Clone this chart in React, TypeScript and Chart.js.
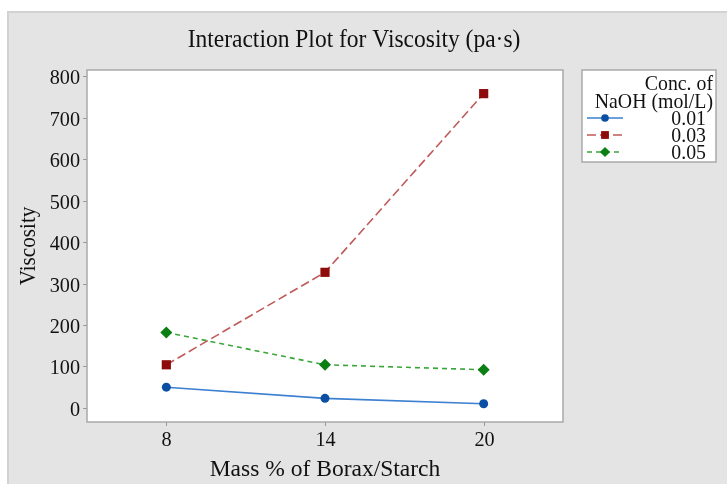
import React, { useEffect, useRef } from "react";
import { Chart, registerables } from "chart.js";

Chart.register(...registerables);

const xValues = [8, 14, 20];
const seriesLabels = ["0.01", "0.03", "0.05"];
const visc001 = [50, 23, 10];
const visc003 = [104, 327, 758];
const visc005 = [182, 104, 92];
const yTickValues = [0, 100, 200, 300, 400, 500, 600, 700, 800];
const xTickValues = [8, 14, 20];
const titleText = "Interaction Plot for Viscosity (pa·s)";
const xTitleText = "Mass % of Borax/Starch";
const yTitleText = "Viscosity";
const legendTitleLines = ["Conc. of", "NaOH (mol/L)"];

const FONT = '"Liberation Serif", "Times New Roman", serif';

const lineColors = ["#3d7fd0", "#c05a5a", "#3aa63a"];
const markColors = ["#0b4fa3", "#8e0b0b", "#0a7f12"];
const dashes: number[][] = [[], [9, 4], [5, 4]];
const styles = ["circle", "rect", "rectRot"];
const radii = [4.5, 6.5, 6];

function txt(ctx: CanvasRenderingContext2D, s: string, x: number, y: number, size: number, align: CanvasTextAlign, sx = 0.88, rot = 0) {
  ctx.save();
  ctx.translate(x, y);
  if (rot) ctx.rotate(rot);
  ctx.scale(sx, 1);
  ctx.font = `${size}px ${FONT}`;
  ctx.textAlign = align;
  ctx.textBaseline = "middle";
  ctx.fillStyle = "#111";
  ctx.fillText(s, 0, 0);
  ctx.restore();
}

function marker(ctx: CanvasRenderingContext2D, style: string, x: number, y: number, r: number, color: string) {
  ctx.save();
  ctx.fillStyle = color;
  ctx.beginPath();
  if (style === "circle") {
    ctx.arc(x, y, r, 0, Math.PI * 2);
  } else if (style === "rect") {
    const s = Math.SQRT1_2 * r;
    ctx.rect(x - s, y - s, 2 * s, 2 * s);
  } else {
    ctx.moveTo(x - r, y);
    ctx.lineTo(x, y - r);
    ctx.lineTo(x + r, y);
    ctx.lineTo(x, y + r);
    ctx.closePath();
  }
  ctx.fill();
  ctx.restore();
}

const framePlugin = {
  id: "frame",
  beforeDraw(chart: any) {
    const ctx: CanvasRenderingContext2D = chart.ctx;
    const { left, right, top, bottom } = chart.chartArea;
    ctx.save();
    ctx.fillStyle = "#ffffff";
    ctx.fillRect(0, 0, chart.width, chart.height);
    ctx.fillStyle = "#e4e4e4";
    ctx.fillRect(7, 11, chart.width - 7, chart.height - 11);
    ctx.strokeStyle = "#d2d2d2";
    ctx.lineWidth = 2;
    ctx.beginPath();
    ctx.moveTo(8, chart.height);
    ctx.lineTo(8, 12);
    ctx.lineTo(chart.width, 12);
    ctx.stroke();
    ctx.fillStyle = "#ffffff";
    ctx.fillRect(left, top, right - left, bottom - top);
    ctx.restore();
  },
  afterDraw(chart: any) {
    const ctx: CanvasRenderingContext2D = chart.ctx;
    const { left, right, top, bottom } = chart.chartArea;
    const xs = chart.scales.x;
    const ys = chart.scales.y;
    ctx.save();
    ctx.strokeStyle = "#a9a9a9";
    ctx.lineWidth = 1.5;
    ctx.strokeRect(left, top, right - left, bottom - top);
    ctx.lineWidth = 1;
    ctx.strokeStyle = "#9a9a9a";
    yTickValues.forEach((v) => {
      const py = Math.round(ys.getPixelForValue(v)) + 0.5;
      ctx.beginPath();
      ctx.moveTo(left - 4, py);
      ctx.lineTo(left, py);
      ctx.stroke();
      txt(ctx, String(v), left - 7, py + 1.5, 22, "right", 0.92);
    });
    xTickValues.forEach((v) => {
      const px = Math.round(xs.getPixelForValue(v)) + 0.5;
      ctx.beginPath();
      ctx.moveTo(px, bottom);
      ctx.lineTo(px, bottom + 4);
      ctx.stroke();
      txt(ctx, String(v), px, bottom + 18, 22, "center", 0.92);
    });
    ctx.restore();

    txt(ctx, titleText, 354, 40, 25, "center", 0.94);
    txt(ctx, xTitleText, (left + right) / 2, 470, 24, "center", 0.98);
    txt(ctx, yTitleText, 29, (top + bottom) / 2, 23, "center", 0.92, -Math.PI / 2);

    // legend
    const lx = 582, ly = 70, lw = 134, lh = 92;
    ctx.save();
    ctx.fillStyle = "#ffffff";
    ctx.fillRect(lx, ly, lw, lh);
    ctx.strokeStyle = "#a9a9a9";
    ctx.lineWidth = 1.5;
    ctx.strokeRect(lx, ly, lw, lh);
    ctx.restore();
    txt(ctx, legendTitleLines[0], lx + lw - 3, ly + 14, 22, "right", 0.9);
    txt(ctx, legendTitleLines[1], lx + lw - 3, ly + 32, 22, "right", 0.9);
    seriesLabels.forEach((lab, i) => {
      const yy = ly + 48 + i * 17;
      ctx.save();
      ctx.strokeStyle = lineColors[i];
      ctx.lineWidth = 1.5;
      ctx.setLineDash(dashes[i]);
      ctx.beginPath();
      ctx.moveTo(lx + 5, yy);
      ctx.lineTo(lx + 41, yy);
      ctx.stroke();
      ctx.restore();
      marker(ctx, styles[i], lx + 23, yy, radii[i] * 0.85, markColors[i]);
      txt(ctx, lab, lx + lw - 10, yy + 1, 22, "right", 0.9);
    });
  },
};

export default function App() {
  const ref = useRef<HTMLCanvasElement | null>(null);
  useEffect(() => {
    document.body.style.margin = "0";
    const canvas = ref.current!;
    const series = [visc001, visc003, visc005];
    const chart = new Chart(canvas, {
      type: "line",
      data: {
        datasets: series.map((vals, i) => ({
          label: seriesLabels[i],
          data: xValues.map((x, j) => ({ x, y: vals[j] })),
          borderColor: lineColors[i],
          borderWidth: 1.6,
          borderDash: dashes[i],
          pointStyle: styles[i] as any,
          pointRadius: radii[i],
          pointBackgroundColor: markColors[i],
          pointBorderColor: markColors[i],
          pointBorderWidth: 0,
          tension: 0,
          fill: false,
        })),
      },
      options: {
        responsive: false,
        devicePixelRatio: 1,
        animation: false,
        events: [],
        layout: { padding: { left: 0, top: 70, right: 164, bottom: 0 } },
        plugins: { legend: { display: false }, title: { display: false }, tooltip: { enabled: false } },
        scales: {
          x: {
            type: "linear",
            min: 5,
            max: 23,
            grid: { display: false },
            border: { display: false },
            ticks: { display: false },
            afterFit: (s: any) => { s.height = 62; },
          },
          y: {
            type: "linear",
            min: -34,
            max: 815,
            grid: { display: false },
            border: { display: false },
            ticks: { display: false },
            afterFit: (s: any) => { s.width = 87; },
          },
        },
      },
      plugins: [framePlugin],
    });
    return () => chart.destroy();
  }, []);
  return <canvas ref={ref} width={727} height={484} style={{ display: "block" }} />;
}
